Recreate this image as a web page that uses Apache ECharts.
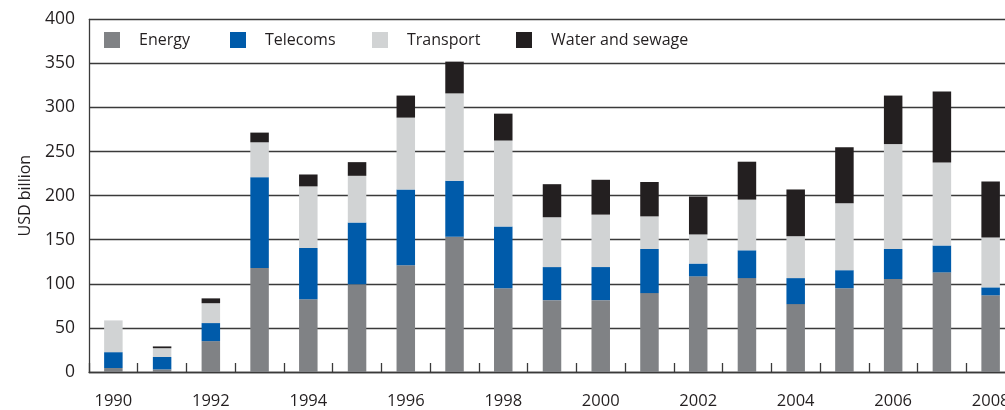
<!DOCTYPE html>
<html>
<head>
<meta charset="utf-8">
<script src="https://cdn.jsdelivr.net/npm/echarts@6/dist/echarts.min.js"></script>
<style>html,body{margin:0;padding:0;background:#fff;overflow:hidden;width:1005px;height:410px;}#c{width:1018px;height:410px;}</style>
</head>
<body>
<div id="c"></div>
<script>
var years = ['1990','1991','1992','1993','1994','1995','1996','1997','1998','1999','2000','2001','2002','2003','2004','2005','2006','2007','2008'];
var energy    = [4.5, 3, 35, 118, 82.5, 99.5, 121, 153.5, 95, 81.5, 81.5, 89.5, 108.5, 106.5, 77, 95, 105.5, 113, 87];
var telecoms  = [18, 14, 20.5, 103, 58, 70, 86, 63.5, 70, 37.5, 37.5, 50, 14.5, 31.5, 29.5, 20.5, 34, 30.5, 9];
var transport = [36, 10, 22.5, 39.5, 70, 53, 81.5, 99, 97.5, 56.5, 59.5, 37, 33, 57.5, 47.5, 76, 119, 94, 56.5];
var water     = [0, 2, 5.5, 11, 13.5, 15.5, 25, 36, 30.5, 37.5, 39.5, 39, 43, 43, 53, 63.5, 55, 80.5, 63.5];
var yTicks = [0, 50, 100, 150, 200, 250, 300, 350, 400];

var FONT = '"Open Sans", "Noto Sans", sans-serif';
var TXT = '#231F20';
var LINE = '#3a3a3a';
var names = ['Energy', 'Telecoms', 'Transport', 'Water and sewage'];
var colors = ['#808285', '#005BAA', '#D1D3D4', '#231F20'];
var datas = [energy, telecoms, transport, water];
var legendLefts = [104, 230, 372, 516];

var chart = echarts.init(document.getElementById('c'), null, {renderer: 'canvas'});
chart.setOption({
  animation: false,
  backgroundColor: '#ffffff',
  grid: {left: 89, top: 19.3, width: 926, height: 353.4, containLabel: false},
  legend: names.map(function (n, i) {
    return {
      data: [n], left: legendLefts[i], top: 32, padding: 0,
      itemWidth: 16, itemHeight: 16, icon: 'rect',
      textStyle: {fontFamily: FONT, fontSize: 16, color: TXT, padding: [0, 0, 0, 14]},
      selectedMode: false
    };
  }),
  xAxis: {
    type: 'category', data: years,
    axisLine: {show: true, lineStyle: {color: LINE, width: 1.3}},
    axisTick: {show: true, inside: true, length: 9, interval: 0, lineStyle: {color: LINE, width: 1.3}},
    axisLabel: {interval: 1, fontFamily: FONT, fontSize: 16.5, color: TXT, margin: 21},
    splitLine: {show: false}
  },
  yAxis: {
    type: 'value', min: yTicks[0], max: yTicks[yTicks.length - 1], interval: 50,
    name: 'USD billion', nameLocation: 'middle', nameGap: 56, nameRotate: 90,
    nameTextStyle: {fontFamily: FONT, fontSize: 16, color: TXT},
    axisLine: {show: true, lineStyle: {color: LINE, width: 1.3}},
    axisTick: {show: false},
    axisLabel: {fontFamily: FONT, fontSize: 17.5, color: TXT, margin: 14},
    splitLine: {show: true, lineStyle: {color: LINE, width: 1.3}}
  },
  series: names.map(function (n, i) {
    return {
      name: n, type: 'bar', stack: 'total', data: datas[i],
      barWidth: 18.5, itemStyle: {color: colors[i]}
    };
  })
});
</script>
</body>
</html>
